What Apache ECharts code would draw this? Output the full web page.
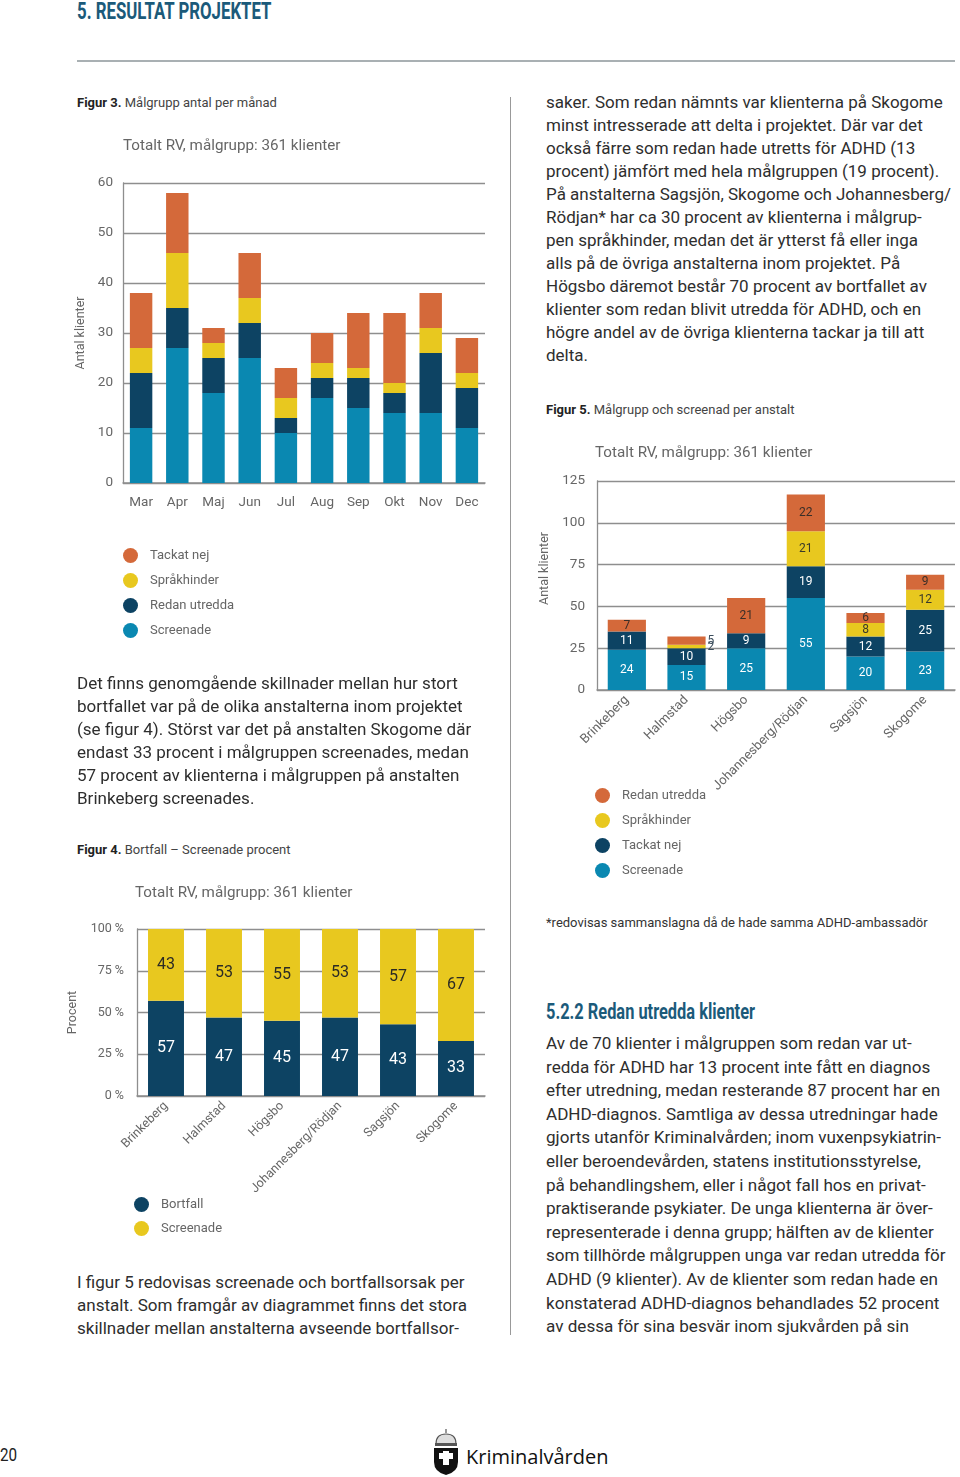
<!DOCTYPE html>
<html><head><meta charset="utf-8">
<script src="https://cdn.jsdelivr.net/npm/echarts@6/dist/echarts.min.js"></script>
<style>
html,body{margin:0;padding:0;background:#fff;}
body{width:960px;height:1477px;position:relative;overflow:hidden;font-family:Roboto,'Liberation Sans',sans-serif;color:#333;}
.abs{position:absolute;}
.cond{font-family:Roboto,sans-serif;transform-origin:0 50%;white-space:nowrap;}
.txt{position:absolute;font-size:17px;line-height:23px;white-space:nowrap;color:#2e2e2e;}
.cap{position:absolute;font-size:13px;color:#444;white-space:nowrap;}
.cap b{color:#222;}
.chart{position:absolute;}
</style></head>
<body>
<div class="abs cond" style="left:77px;top:-2px;font-size:23px;font-weight:bold;color:#1b5a7a;transform:scaleX(0.73);">5. RESULTAT PROJEKTET</div>
<div class="abs" style="left:77px;top:60px;width:878px;height:1.5px;background:#a9b0b3;"></div>
<div class="abs" style="left:510px;top:97px;width:1px;height:1238px;background:#999;"></div>

<div class="cap" style="left:77px;top:95px;"><b>Figur 3.</b> Målgrupp antal per månad</div>
<div id="c1" class="chart" style="left:60px;top:125px;width:440px;height:560px;"></div>

<div class="txt" style="left:77px;top:672px;font-size:17.05px;">Det finns genomgående skillnader mellan hur stort<br>bortfallet var på de olika anstalterna inom projektet<br>(se figur 4). Störst var det på anstalten Skogome där<br>endast 33 procent i målgruppen screenades, medan<br>57 procent av klienterna i målgruppen på anstalten<br>Brinkeberg screenades.</div>

<div class="cap" style="left:77px;top:842px;"><b>Figur 4.</b> Bortfall – Screenade procent</div>
<div id="c3" class="chart" style="left:60px;top:870px;width:440px;height:380px;"></div>

<div class="txt" style="left:77px;top:1271px;font-size:17.05px;">I figur 5 redovisas screenade och bortfallsorsak per<br>anstalt. Som framgår av diagrammet finns det stora<br>skillnader mellan anstalterna avseende bortfallsor-</div>

<div class="txt" style="left:546px;top:91px;">saker. Som redan nämnts var klienterna på Skogome<br>minst intresserade att delta i projektet. Där var det<br>också färre som redan hade utretts för ADHD (13<br>procent) jämfört med hela målgruppen (19 procent).<br>På anstalterna Sagsjön, Skogome och Johannesberg/<br>Rödjan* har ca 30 procent av klienterna i målgrup-<br>pen språkhinder, medan det är ytterst få eller inga<br>alls på de övriga anstalterna inom projektet. På<br>Högsbo däremot består 70 procent av bortfallet av<br>klienter som redan blivit utredda för ADHD, och en<br>högre andel av de övriga klienterna tackar ja till att<br>delta.</div>

<div class="cap" style="left:546px;top:402px;"><b>Figur 5.</b> Målgrupp och screenad per anstalt</div>
<div id="c2" class="chart" style="left:530px;top:430px;width:430px;height:460px;"></div>

<div class="cap" style="left:546px;top:915px;font-size:13px;color:#333;">*redovisas sammanslagna då de hade samma ADHD-ambassadör</div>

<div class="abs cond" style="left:546px;top:999px;font-size:22px;font-weight:bold;color:#1b5a7a;transform:scaleX(0.745);">5.2.2 Redan utredda klienter</div>
<div class="txt" style="left:546px;top:1032px;line-height:23.6px;font-size:17.1px;">Av de 70 klienter i målgruppen som redan var ut-<br>redda för ADHD har 13 procent inte fått en diagnos<br>efter utredning, medan resterande 87 procent har en<br>ADHD-diagnos. Samtliga av dessa utredningar hade<br>gjorts utanför Kriminalvården; inom vuxenpsykiatrin-<br>eller beroendevården, statens institutionsstyrelse,<br>på behandlingshem, eller i något fall hos en privat-<br>praktiserande psykiater. De unga klienterna är över-<br>representerade i denna grupp; hälften av de klienter<br>som tillhörde målgruppen unga var redan utredda för<br>ADHD (9 klienter). Av de klienter som redan hade en<br>konstaterad ADHD-diagnos behandlades 52 procent<br>av dessa för sina besvär inom sjukvården på sin</div>

<div class="abs cond" style="left:0px;top:1443px;font-size:19px;color:#222;transform:scaleX(0.8);">20</div>
<svg class="abs" style="left:430px;top:1428px;" width="32" height="48" viewBox="0 0 32 48">
  <path d="M16 1 L16 5 M6 16 Q6 6 16 6 Q26 6 26 16 Z" stroke="#555" fill="#ddd" stroke-width="1.2"/>
  <rect x="5" y="15" width="22" height="3" fill="#555"/>
  <path d="M4 20 H28 V34 Q28 44 16 47 Q4 44 4 34 Z" fill="#111"/>
  <path d="M9 25 H13 V23 H19 V25 H23 V31 H19 V37 H13 V31 H9 Z" fill="#fff"/>
</svg>
<div class="abs" style="left:466px;top:1443px;font-size:20px;color:#111;font-family:'Open Sans',Lato,sans-serif;">Kriminalvården</div>

<script>
// ---------- data ----------
const months = ['Mar','Apr','Maj','Jun','Jul','Aug','Sep','Okt','Nov','Dec'];
const mScreenade     = [11,27,18,25,10,17,15,14,14,11];
const mRedanUtredda  = [11, 8, 7, 7, 3, 4, 6, 4,12, 8];
const mSprakhinder   = [ 5,11, 3, 5, 4, 3, 2, 2, 5, 3];
const mTackatNej     = [11,12, 3, 9, 6, 6,11,14, 7, 7];

const anstalter      = ['Brinkeberg','Halmstad','Högsbo','Johannesberg/Rödjan','Sagsjön','Skogome'];
const aScreenade     = [24,15,25,55,20,23];
const aTackatNej     = [11,10, 9,19,12,25];
const aSprakhinder   = [ 0, 2, 0,21, 8,12];
const aRedanUtredda  = [ 7, 5,21,22, 6, 9];

const pBortfall      = [57,47,45,47,43,33];
const pScreenade     = [43,53,55,53,57,67];

const title = 'Totalt RV, målgrupp: 361 klienter';
const ticks1 = {min:0,max:60,interval:10};
const ticks2 = {min:0,max:125,interval:25};
const ticks3 = {min:0,max:100,interval:25};

// ---------- style ----------
const FONT = "Roboto,'Liberation Sans',sans-serif";
const ORANGE='#d4693a', YELLOW='#e8c81f', NAVY='#0d4363', BLUE='#0a88b1';
const GRAY='#666', GRID='#8e8e8e';

function yAxis(t, name, gap, lblSize, margin, fmt, namePad){
  return {type:'value',min:t.min,max:t.max,interval:t.interval,
    name:name,nameLocation:'middle',nameRotate:90,nameGap:gap,
    nameTextStyle:{color:GRAY,fontSize:12.5,fontFamily:FONT,padding:namePad||0},
    axisLine:{show:true,lineStyle:{color:GRID,width:1.3}},axisTick:{show:false},
    axisLabel:{color:GRAY,fontSize:lblSize,fontFamily:FONT,margin:margin,formatter:fmt||'{value}'},
    splitLine:{lineStyle:{color:GRID,width:1.3}}};
}
function xAxis(cats, rot, margin, size){
  return {type:'category',data:cats,
    axisLine:{lineStyle:{color:GRID,width:1.5}},axisTick:{show:false},
    axisLabel:{color:GRAY,fontSize:size,fontFamily:FONT,rotate:rot,margin:margin,interval:0}};
}
function legend(names, left, top, gap){
  return {orient:'vertical',left:left,top:top,padding:0,itemWidth:15,itemHeight:15,itemGap:gap,icon:'circle',
    data:names,textStyle:{color:GRAY,fontSize:13,fontFamily:FONT,padding:[0,0,0,7]},selectedMode:false};
}
function titleOpt(left, top){
  return {text:title,left:left,top:top,padding:0,textStyle:{color:GRAY,fontSize:15.2,fontWeight:'normal',fontFamily:FONT}};
}

// ---------- chart 1 ----------
const c1 = echarts.init(document.getElementById('c1'));
function s1(name, data, color){
  return {name:name,type:'bar',stack:'a',data:data,barWidth:'62%',itemStyle:{color:color},silent:true};
}
c1.setOption({
  animation:false, textStyle:{fontFamily:FONT},
  title:titleOpt(63,14),
  grid:{left:63,top:58,width:362,height:300,containLabel:false,outerBoundsMode:'none'},
  xAxis:xAxis(months,0,13,13.5),
  yAxis:yAxis(ticks1,'Antal klienter',36,13.5,10),
  legend:legend(['Tackat nej','Språkhinder','Redan utredda','Screenade'],63,423,10),
  series:[s1('Screenade',mScreenade,BLUE),s1('Redan utredda',mRedanUtredda,NAVY),
          s1('Språkhinder',mSprakhinder,YELLOW),s1('Tackat nej',mTackatNej,ORANGE)]
});

// ---------- chart 2 ----------
const c2 = echarts.init(document.getElementById('c2'));
function s2(name, data, color, lcolor){
  return {name:name,type:'bar',stack:'a',barWidth:'64%',itemStyle:{color:color},silent:true,
    data:data.map((v,i)=> (anstalter[i]==='Halmstad' && v<=5 && name!=='Screenade' && name!=='Tackat nej')
      ? {value:v,label:{position:'right',distance:2,color:'#3b4d5c'}} : v),
    label:{show:true,position:'inside',color:lcolor,fontSize:12,fontFamily:FONT,
      formatter:p=> p.value ? String(p.value) : ''}};
}
c2.setOption({
  animation:false, textStyle:{fontFamily:FONT},
  title:titleOpt(65,16),
  grid:{left:67,top:51,width:358,height:209,containLabel:false,outerBoundsMode:'none'},
  xAxis:xAxis(anstalter,45,8,13),
  yAxis:yAxis(ticks2,'Antal klienter',40,13.5,12,null,[0,0,0,34]),
  legend:legend(['Redan utredda','Språkhinder','Tackat nej','Screenade'],65,358,10),
  series:[s2('Screenade',aScreenade,BLUE,'#fff'),s2('Tackat nej',aTackatNej,NAVY,'#fff'),
          s2('Språkhinder',aSprakhinder,YELLOW,'#3a3a2a'),s2('Redan utredda',aRedanUtredda,ORANGE,'#3a2e28')]
});

// ---------- chart 3 ----------
const c3 = echarts.init(document.getElementById('c3'));
function s3(name, data, color, lcolor){
  return {name:name,type:'bar',stack:'a',data:data,barWidth:'62%',itemStyle:{color:color},silent:true,
    label:{show:true,position:'inside',color:lcolor,fontSize:16,fontFamily:FONT}};
}
c3.setOption({
  animation:false, textStyle:{fontFamily:FONT},
  title:titleOpt(75,16),
  grid:{left:77,top:59,width:348,height:167,containLabel:false,outerBoundsMode:'none'},
  xAxis:xAxis(anstalter,45,8,12.5),
  yAxis:yAxis(ticks3,'Procent',37,12.5,13,'{value} %'),
  legend:legend(['Bortfall','Screenade'],74,327,9),
  series:[s3('Bortfall',pBortfall,NAVY,'#fff'),s3('Screenade',pScreenade,YELLOW,'#2b2b25')]
});
</script>
</body></html>
